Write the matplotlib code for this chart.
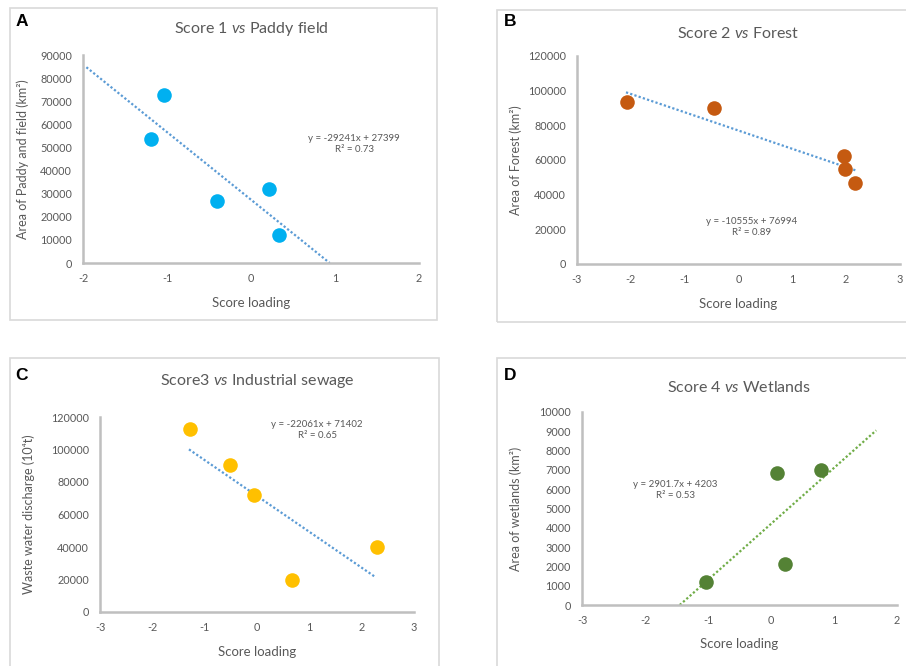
import numpy as np
import matplotlib
matplotlib.use("Agg")
import matplotlib.pyplot as plt
from matplotlib.patches import Rectangle

plt.rcParams['font.family'] = ['Lato', 'DejaVu Sans']
plt.rcParams['mathtext.fontset'] = 'custom'
plt.rcParams['mathtext.rm'] = 'Lato'
plt.rcParams['mathtext.it'] = 'Lato:italic'

# data
score1 = [-1.04, -1.19, -0.41, 0.21, 0.33]
paddy = [72700, 53500, 26700, 32000, 12000]

score2 = [-2.07, -0.45, 1.96, 1.97, 2.16]
forest = [93500, 89800, 62100, 54800, 46500]

score3 = [-1.28, -0.51, -0.06, 0.66, 2.29]
sewage = [112800, 90600, 71800, 20000, 40100]

score4 = [-1.03, 0.09, 0.22, 0.80]
wetlands = [1210, 6830, 2110, 6970]

# Excel trendline equations shown on the chart
fit_a = (-29241, 27399, 0.73)
fit_b = (-10555, 76994, 0.89)
fit_c = (-22061, 71402, 0.65)
fit_d = (2901.7, 4203, 0.53)

GREY = '#595959'
AXIS = '#BFBFBF'

fig = plt.figure(figsize=(9.06, 6.66), dpi=100)
W, H = 906, 666


def fx(px):
    return px / W


def fy(py):
    return 1 - py / H


def frame(x0, y0, x1, y1):
    fig.patches.append(Rectangle((fx(x0), fy(y1)), fx(x1) - fx(x0), fy(y0) - fy(y1),
                                 transform=fig.transFigure, fill=False,
                                 edgecolor='#D9D9D9', lw=1.2))


def panel(box, x, y, color, fit, trend_x, xlim, ylim, ystep, title, ylabel,
          letter, letter_xy, title_y, ylabel_x, xlabel_y, eq_xy, trend_color='#5B9BD5'):
    l, t, r, b = box
    ax = fig.add_axes([fx(l), fy(b), fx(r) - fx(l), fy(t) - fy(b)])
    ax.scatter(x, y, s=110, color=color, zorder=3, linewidths=0)
    m, c, r2 = fit
    tx = np.array(trend_x)
    ax.plot(tx, m * tx + c, color=trend_color, lw=1.6, ls=(0, (1, 1)), zorder=2)
    ax.set_xlim(*xlim)
    ax.set_ylim(*ylim)
    ax.set_xticks(np.arange(xlim[0], xlim[1] + 1, 1))
    ax.set_yticks(np.arange(ylim[0], ylim[1] + 1, ystep))
    ax.set_xticklabels([str(v) for v in range(xlim[0], xlim[1] + 1)])
    for s in ['top', 'right']:
        ax.spines[s].set_visible(False)
    for s in ['left', 'bottom']:
        ax.spines[s].set_color(AXIS)
        ax.spines[s].set_linewidth(1.8)
    ax.tick_params(length=0, colors=GREY, labelsize=7.8)
    ax.tick_params(axis='y', pad=8)
    ax.tick_params(axis='x', pad=7)
    ax.patch.set_alpha(0)
    sign = '+' if c >= 0 else '-'
    mtxt = ('%g' % m)
    ax.text(eq_xy[0], eq_xy[1], 'y = %sx %s %g\nR² = %.2f' % (mtxt, sign, abs(c), r2),
            ha='center', va='center', fontsize=7, color=GREY, linespacing=1.4)
    ax.set_ylabel(ylabel, fontsize=9, color=GREY)
    ax.yaxis.set_label_coords(fx(ylabel_x), (fy(t) + fy(b)) / 2, transform=fig.transFigure)
    ax.set_xlabel('Score loading', fontsize=9.5, color=GREY)
    ax.xaxis.set_label_coords((fx(l) + fx(r)) / 2, fy(xlabel_y), transform=fig.transFigure)
    fig.text((fx(l) + fx(r)) / 2, fy(title_y), title, ha='center', va='center',
             fontsize=11.5, color=GREY)
    fig.text(fx(letter_xy[0]), fy(letter_xy[1]), letter, ha='center', va='center',
             fontsize=12.5, fontweight='bold', family='Liberation Sans', color='black')
    return ax


frame(10, 8, 437, 320)
frame(497, 10, 912, 322)
frame(10, 358, 439, 672)
frame(497, 358, 912, 672)

xa = np.array(score1)
panel((83, 55, 419, 263), score1, paddy, '#00B0F0', fit_a,
      [xa.min() - 0.77, -fit_a[1] / fit_a[0]], (-2, 2), (0, 90000), 10000,
      r'Score 1 $\it{vs}$ Paddy field', 'Area of Paddy and field (km²)',
      'A', (22, 22), 29, 29, 297, (1.23, 51500))

xb = np.array(score2)
panel((577, 56, 900, 264), score2, forest, '#C55A11', fit_b,
      [xb.min() - 0.02, xb.max() + 0.02], (-3, 3), (0, 120000), 20000,
      r'Score 2 $\it{vs}$ Forest', 'Area of Forest (km²)',
      'B', (510, 21), 34, 522, 298, (0.25, 21300))

xc = np.array(score3)
panel((100, 417, 414, 612), score3, sewage, '#FFC000', fit_c,
      [xc.min() - 0.02, xc.max() - 0.02], (-3, 3), (0, 120000), 20000,
      r'Score3 $\it{vs}$ Industrial sewage', 'Waste water discharge (10⁴t)',
      'C', (22, 375), 381, 35, 646, (1.15, 112000))

xd = np.array(score4)
panel((582, 412, 897, 605), score4, wetlands, '#548235', fit_d,
      [-fit_d[1] / fit_d[0], xd.max() + 0.87], (-3, 2), (0, 10000), 1000,
      r'Score 4 $\it{vs}$ Wetlands', 'Area of wetlands (km²)',
      'D', (510, 375), 388, 522, 638, (-1.52, 5960), trend_color='#70AD47')

fig.savefig('out.png', dpi=100)
